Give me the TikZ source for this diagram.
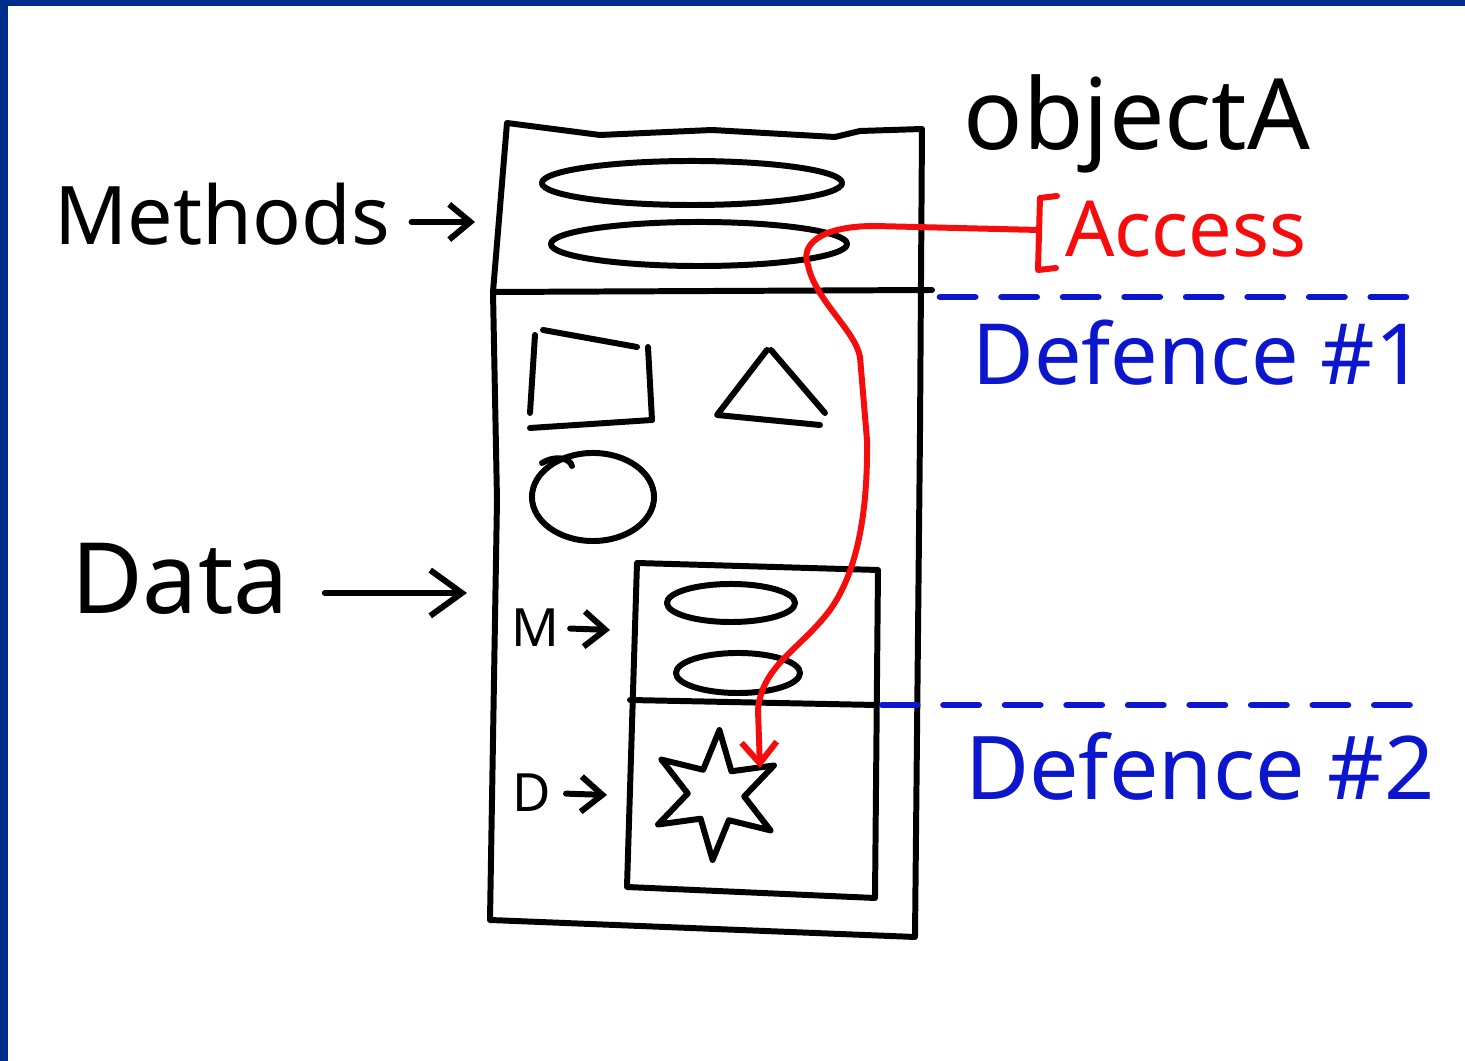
\documentclass[tikz,border=0pt]{standalone}
\usepackage{fontspec}
\setmainfont{Noto Sans}
\usetikzlibrary{arrows.meta,positioning,shapes.geometric}

\definecolor{frameblue}{RGB}{0,46,140}
\definecolor{penblue}{RGB}{12,22,205}
\definecolor{penred}{RGB}{245,12,12}

\tikzset{
  pen/.style={line width=1.7pt, line cap=round, line join=round},
  hand/.style={inner sep=0pt, font=\fontsize{#1}{#1}\selectfont},
  barb/.style={-{Straight Barb[length=6pt,width=10pt,line width=1.7pt]}},
  bigbarb/.style={-{Straight Barb[length=9pt,width=13pt,line width=1.7pt]}},
  fence/.style={penblue, line width=1.9pt, line cap=round, dash pattern=on 10pt off 7.5pt},
}

\begin{document}
\begin{tikzpicture}[x=0.01cm,y=-0.01cm]
  \useasboundingbox (0,0) rectangle (1465,1061);
  % slide frame
  \fill[white] (0,0) rectangle (1465,1061);
  \fill[frameblue] (0,0) rectangle (1465,6);
  \fill[frameblue] (0,0) rectangle (8,1061);

  % the object
  \draw[pen] (507,123) -- (600,135) -- (712,130) -- (835,137) -- (860,131) -- (922,129)
    -- (920,433) -- (915,937) -- (490,920) -- (497,500) -- (493,292) -- cycle;
  \draw[pen] (493,292) -- (932,290);

  % its methods
  \draw[pen] (692,183) ellipse [x radius=1.5cm, y radius=0.22cm];
  \draw[pen] (699,244) ellipse [x radius=1.48cm, y radius=0.22cm];

  % its data
  \draw[pen] (543,330) -- (637,347);
  \draw[pen] (535,335) -- (530,413);
  \draw[pen] (648,347) -- (652,420);
  \draw[pen] (530,428) -- (652,420);
  \draw[pen] (767,350) -- (717,415) -- (820,425);
  \draw[pen] (771,350) -- (825,413);
  \draw[pen] (593,497) ellipse [x radius=0.61cm, y radius=0.44cm];
  \draw[pen] (542,463) .. controls (555,455) and (570,458) .. (572,466);

  % an object inside the object
  \draw[pen] (637,563) -- (878,570) -- (875,898) -- (627,887) -- cycle;
  \draw[pen] (630,700) -- (876,705);
  \draw[pen] (731,603) ellipse [x radius=0.64cm, y radius=0.19cm];
  \draw[pen] (738,673) ellipse [x radius=0.62cm, y radius=0.2cm];
  \node[star, star points=6, star point ratio=2.3, draw, pen, minimum size=1.3cm,
    inner sep=0pt, rotate=-3] (gem) at (716,795) {};
  \coordinate (hit) at (760,768);

  % labels on the left
  \node[hand=23, anchor=base] (methods) at (222,245) {Methods};
  \node[hand=28, anchor=base] (data) at (180,614) {Data};
  \node[hand=15, anchor=base] (m) at (535,647) {M};
  \node[hand=15, anchor=base] (d) at (532,812) {D};
  \coordinate (mtip) at (475,222);
  \coordinate (dtip) at (467,593);
  \coordinate (mmtip) at (610,630);
  \coordinate (ddtip) at (607,795);
  \draw[pen, barb, shorten <=6pt] (methods.east |- mtip) -- (mtip);
  \draw[pen, bigbarb, shorten <=10pt] (data.east |- dtip) -- (dtip);
  \draw[pen, barb, shorten <=3pt] (m.east) -- (mmtip);
  \draw[pen, barb, shorten <=4pt] (d.east) -- (ddtip);

  \node[hand=28, anchor=base] (name) at (1137,150) {objectA};

  % the way in
  \node[hand=22, anchor=base, text=penred] (access) at (1186,257) {Access};
  \coordinate (brk) at (1039,230);
  \draw[pen, penred] (1057,196) -- (1040,198) -- (1038,270) -- (1056,268);
  \draw[pen, penred, barb] (brk) -- (875,226)
    .. controls (820,226) and (800,245) .. (808,265)
    .. controls (815,300) and (855,330) .. (860,357)
    -- (867,440)
    .. controls (868,520) and (855,575) .. (830,610)
    .. controls (800,650) and (762,665) .. (758,710)
    -- (hit);

  % defence lines
  \coordinate (f1a) at (940,297);
  \coordinate (f1b) at (1432,297);
  \coordinate (f2a) at (882,705);
  \coordinate (f2b) at (1432,705);
  \draw[fence] (f1a) -- (f1b);
  \draw[fence] (f2a) -- (f2b);
  \node[hand=24, anchor=base, text=penblue] (def1) at (1198,385) {Defence \#1};
  \node[hand=25, anchor=base, text=penblue] (def2) at (1200,800) {Defence \#2};
\end{tikzpicture}
\end{document}
